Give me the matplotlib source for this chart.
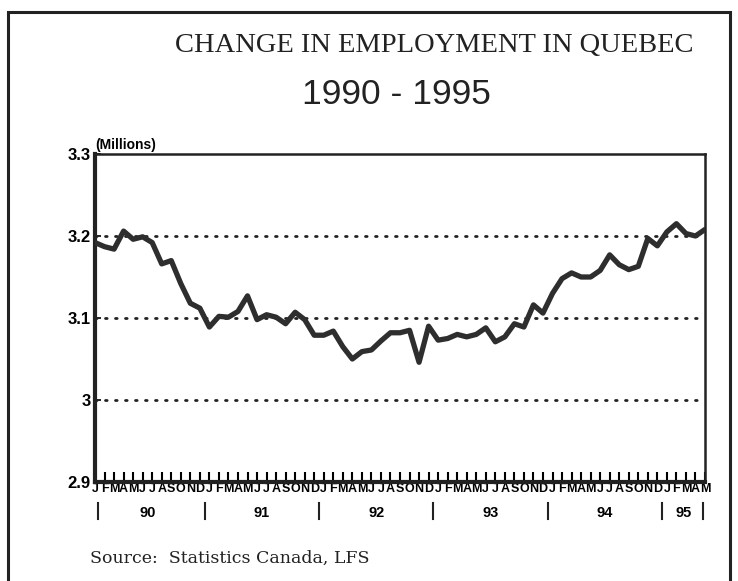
import numpy as np
import matplotlib
matplotlib.use("Agg")
import matplotlib.pyplot as plt
from matplotlib.patches import Rectangle
import matplotlib.transforms as mtransforms

# monthly employment, Quebec, Jan 1990 - May 1995 (millions)
employment = [
    3.192, 3.187, 3.184, 3.206, 3.196, 3.199, 3.192, 3.166, 3.170, 3.142, 3.118, 3.112,
    3.089, 3.102, 3.101, 3.108, 3.127, 3.098, 3.104, 3.101, 3.093, 3.107, 3.098, 3.079,
    3.079, 3.084, 3.065, 3.050, 3.059, 3.061, 3.072, 3.082, 3.082, 3.085, 3.046, 3.090,
    3.073, 3.075, 3.080, 3.077, 3.080, 3.088, 3.071, 3.077, 3.093, 3.089, 3.116, 3.106,
    3.130, 3.148, 3.155, 3.150, 3.150, 3.158, 3.177, 3.165, 3.159, 3.163, 3.197, 3.188,
    3.205, 3.215, 3.203, 3.200, 3.208,
]
month_letters = list("JFMAMJJASOND")
year_labels = ["90", "91", "92", "93", "94", "95"]
y_ticks = [2.9, 3.0, 3.1, 3.2, 3.3]
y_tick_labels = ["2.9", "3", "3.1", "3.2", "3.3"]
grid_levels = [3.0, 3.1, 3.2]

W, H = 738, 581
fig = plt.figure(figsize=(W / 100, H / 100), dpi=100)
fig.patch.set_facecolor("white")

# outer frame of the scanned page
fig.patches.append(Rectangle((8 / W, -0.05), 722 / W, 1.05 - 12 / H,
                             transform=fig.transFigure, fill=False,
                             edgecolor="#222222", linewidth=2.2))

ax = fig.add_axes([95 / W, 1 - 482 / H, 610 / W, 328 / H])
x = np.arange(len(employment))
ax.plot(x, employment, color="#2e2e2e", linewidth=3.8, solid_joinstyle="round",
        solid_capstyle="round", zorder=3)

for lvl in grid_levels:
    ax.axhline(lvl, color="#222222", linewidth=2.0, linestyle=(0, (0.6, 3.0)),
               dash_capstyle="round", zorder=2)

ax.set_xlim(0, len(employment) - 1)
ax.set_ylim(2.9, 3.3)
ax.set_yticks(y_ticks)
ax.set_yticklabels(y_tick_labels, fontsize=12, fontweight="bold",
                   family="Liberation Sans")
ax.tick_params(axis="y", direction="in", length=4, width=1.2, pad=3)

ax.set_xticks(x)
ax.set_xticklabels([month_letters[i % 12] for i in x], fontsize=9,
                   fontweight="bold", family="Liberation Sans")
ax.tick_params(axis="x", direction="in", length=7, width=1.5, pad=1)

for side, lw in [("left", 3.0), ("bottom", 3.0), ("top", 1.8), ("right", 1.8)]:
    ax.spines[side].set_linewidth(lw)
    ax.spines[side].set_color("#222222")

# year labels and separators below the month letters
trans = mtransforms.blended_transform_factory(ax.transData, ax.transAxes)
seps = [0.3] + [11.5 + 12 * k for k in range(5)] + [63.8]
for s in seps:
    ax.plot([s, s], [-0.065, -0.113], transform=trans, color="#222222",
            linewidth=1.5, clip_on=False)
centers = [5.5 + 12 * k for k in range(5)] + [61.8]
for c, lab in zip(centers, year_labels):
    ax.text(c, -0.096, lab, transform=trans, ha="center", va="center",
            fontsize=10.5, fontweight="bold", family="Liberation Sans")

ax.text(0.0, 1.005, "(Millions)", transform=ax.transAxes, ha="left", va="bottom",
        fontsize=10, fontweight="bold", family="Liberation Sans")

fig.text(434 / W, 1 - 45 / H, "CHANGE IN EMPLOYMENT IN QUEBEC", ha="center",
         va="center", fontsize=20.5, family="Liberation Serif", color="#222222")
fig.text(396 / W, 1 - 94 / H, "1990 - 1995", ha="center", va="center",
         fontsize=25.5, family="Liberation Sans", color="#222222")
fig.text(90 / W, 1 - 558 / H, "Source:  Statistics Canada, LFS", ha="left",
         va="center", fontsize=12.5, family="DejaVu Serif", color="#222222")

fig.savefig("out.png", dpi=100, facecolor="white")
